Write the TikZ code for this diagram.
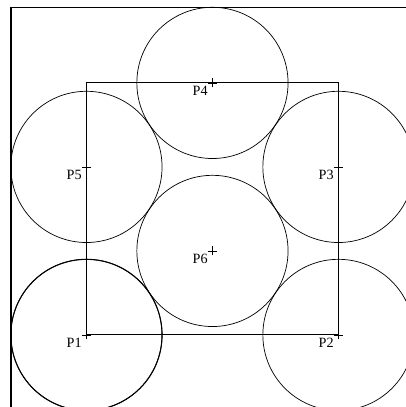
\documentclass[tikz,border=0pt]{standalone}
\usepackage{fontspec}
\setmainfont{Liberation Serif}
\begin{document}
\begin{tikzpicture}[line width=.8pt,
  ptlabel/.style={anchor=north east,inner sep=0pt,xshift=-5pt,yshift=-3pt,font=\fontsize{16}{18}\selectfont},
  ptcross/.style={line width=.8pt}]
\useasboundingbox (-3.43,-2.86) rectangle (12.68,13.29);
\clip (-3.43,-2.86) rectangle (12.68,13.29);
% outer frame
\draw[line width=1.8pt] (-3,-3) rectangle (13,13);
% points
\coordinate (p1) at (0,0);
\coordinate (p2) at (10,0);
\coordinate (p3) at (10,6.667);
\coordinate (p4) at (5,10);
\coordinate (p5) at (0,6.667);
\coordinate (p6) at (5,3.333);
% square
\draw[line width=1.3pt] (p1) rectangle (10,10);
% circles
\foreach \p in {1,...,6}
  \draw (p\p) circle (3);
\draw[line width=1.2pt] (p1) circle (3);
% marks and labels
\foreach \p in {1,...,6} {
  \draw[ptcross] ([xshift=-5pt]p\p) -- ([xshift=5pt]p\p)
                 ([yshift=-5pt]p\p) -- ([yshift=5pt]p\p);
  \node[ptlabel] (l\p) at (p\p) {P\p};
}
\end{tikzpicture}
\end{document}
